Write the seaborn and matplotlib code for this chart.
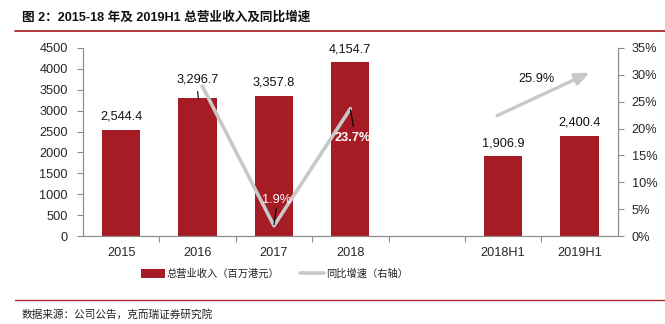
import matplotlib
matplotlib.use("Agg")
import matplotlib.pyplot as plt
import seaborn as sns
import pandas as pd
import numpy as np
from matplotlib.patches import Patch
from matplotlib.lines import Line2D

# ---- data ----
categories = ["2015", "2016", "2017", "2018", " ", "2018H1", "2019H1"]
revenue = [2544.4, 3296.7, 3357.8, 4154.7, np.nan, 1906.9, 2400.4]
revenue_labels = ["2,544.4", "3,296.7", "3,357.8", "4,154.7", "", "1,906.9", "2,400.4"]
growth_cats = ["2016", "2017", "2018"]
growth = [29.6, 1.9, 23.7]
growth_labels = ["", "1.9%", "23.7%"]
h1_growth = 25.9
h1_growth_label = "25.9%"
left_ticks = [0, 500, 1000, 1500, 2000, 2500, 3000, 3500, 4000, 4500]
right_ticks = [0, 5, 10, 15, 20, 25, 30, 35]

title = "图 2：2015-18 年及 2019H1 总营业收入及同比增速"
legend_bar = "总营业收入（百万港元）"
legend_line = "同比增速（右轴）"
source = "数据来源：公司公告，克而瑞证券研究院"

sns.set_theme(style="white")
plt.rcParams['font.family'] = ['Liberation Sans', 'Noto Sans CJK SC', 'DejaVu Sans']

BAR = "#A51C24"
LINE = "#C8C8C8"
SPINE = "#8C8C8C"
DARKRED = "#A8282C"
FS = 9.2

fig = plt.figure(figsize=(6.65, 3.24), dpi=100)
ax = fig.add_axes([0.1248, 0.2716, 0.929 - 0.1248, 0.852 - 0.2716])

df = pd.DataFrame({"cat": categories, "rev": revenue})
sns.barplot(data=df, x="cat", y="rev", order=categories, color=BAR,
            width=0.5, saturation=1, ax=ax, edgecolor="none")

ax.set_ylim(0, 4500)
ax.set_xlim(-0.5, len(categories) - 0.5)
ax.set_yticks(left_ticks)
ax.set_yticklabels([str(t) for t in left_ticks], fontsize=FS)
ax.set_xticks(range(len(categories)))
ax.set_xticklabels([c if c.strip() else "" for c in categories], fontsize=FS)
ax.set_xlabel("")
ax.set_ylabel("")
ax.spines["top"].set_visible(False)
for s in ["left", "bottom", "right"]:
    ax.spines[s].set_color(SPINE)
    ax.spines[s].set_linewidth(0.8)
ax.tick_params(axis="y", which="major", direction="out", length=4, color=SPINE,
               width=0.8, left=True, pad=7)
ax.tick_params(axis="x", which="major", length=0, pad=8)
ax.set_xticks(np.arange(-0.5, len(categories), 1.0)[1:-1], minor=True)
ax.tick_params(axis="x", which="minor", direction="out", length=4, color=SPINE,
               width=0.8, bottom=True)

# ---- growth line on right axis ----
ax2 = ax.twinx()
ax2.set_position(ax.get_position())
gx = [categories.index(c) for c in growth_cats]
sns.lineplot(x=gx, y=growth, ax=ax2, color=LINE, linewidth=2.6, legend=False, zorder=2)
ax2.set_ylim(0, 35)
ax2.set_yticks(right_ticks)
ax2.set_yticklabels([f"{t}%" for t in right_ticks], fontsize=FS)
ax2.tick_params(axis="y", direction="out", length=4, color=SPINE, width=0.8, right=True, pad=6)
ax2.set_xlim(ax.get_xlim())
ax2.spines["top"].set_visible(False)
for s in ["left", "bottom", "right"]:
    ax2.spines[s].set_color(SPINE)
    ax2.spines[s].set_linewidth(0.8)
ax2.set_ylabel("")

# bar value labels drawn above the line (white box hides the line end)
for i, (v, lab) in enumerate(zip(revenue, revenue_labels)):
    if lab:
        lift = 13 if categories[i] != "2016" else 19   # 2016 label pushed up with leader
        ax2.annotate(lab, xy=(i, v), xycoords=ax.transData,
                     xytext=(0, lift), textcoords="offset pixels",
                     ha="center", va="center", fontsize=FS, color="#111111", zorder=5,
                     bbox=dict(facecolor="white", edgecolor="none", pad=0.2))

# leader lines and labels
ax2.plot([gx[0], gx[0] + 0.01], [26.9, 25.6], color="black", lw=0.8, zorder=6)
ax2.plot([gx[1] + 0.03, gx[1]], [5.2, 2.1], color="black", lw=0.8, zorder=6)
ax2.text(gx[1] + 0.04, 6.7, growth_labels[1], ha="center", va="center",
         fontsize=FS, color="white", zorder=6)
ax2.plot([gx[2], gx[2] + 0.04], [23.5, 20.4], color="black", lw=0.8, zorder=6)
ax2.text(gx[2] + 0.03, 18.3, growth_labels[2], ha="center", va="center",
         fontsize=FS, color="white", fontweight="bold", zorder=6)

# H1 arrow
i1 = categories.index("2018H1")
i2 = categories.index("2019H1")
ax2.annotate("", xy=(i2 + 0.13, 30.4), xytext=(i1 - 0.08, 22.4),
             arrowprops=dict(arrowstyle="-|>,head_length=0.7,head_width=0.3",
                             color=LINE, lw=2.4, shrinkA=0, shrinkB=0))
ax2.text((i1 + i2) / 2 - 0.07, 29.3, h1_growth_label, ha="center", va="center",
         fontsize=FS, color="#111111")

# ---- legend ----
handles = [Patch(facecolor=BAR, edgecolor="none"),
           Line2D([0], [0], color=LINE, lw=2.6)]
leg = fig.legend(handles, [legend_bar, legend_line], loc="center",
                 bbox_to_anchor=(0.413, 0.155), ncol=2, frameon=False,
                 prop={"family": ["Noto Sans CJK SC", "DejaVu Sans"], "size": 7.4},
                 handlelength=2.3, handleheight=0.9, handletextpad=0.2,
                 columnspacing=2.0)
for t in leg.get_texts():
    t.set_color("#222222")

# ---- title, rules, source ----
fig.text(0.033, 0.945, title, ha="left", va="center", fontsize=9.1, fontweight="bold",
         family=["Liberation Sans", "Noto Sans CJK SC", "DejaVu Sans"], color="#111111")
fig.add_artist(Line2D([0.022, 1.0], [1 - 31 / 324, 1 - 31 / 324], color=DARKRED, lw=1.3,
                      transform=fig.transFigure))
fig.add_artist(Line2D([0.022, 1.0], [1 - 300 / 324, 1 - 300 / 324], color=DARKRED, lw=1.0,
                      transform=fig.transFigure))
fig.text(0.033, 1 - 314 / 324, source, ha="left", va="center", fontsize=7.7,
         family=["Noto Sans CJK SC", "DejaVu Sans"], color="#222222")

fig.savefig("out.png", dpi=100)
